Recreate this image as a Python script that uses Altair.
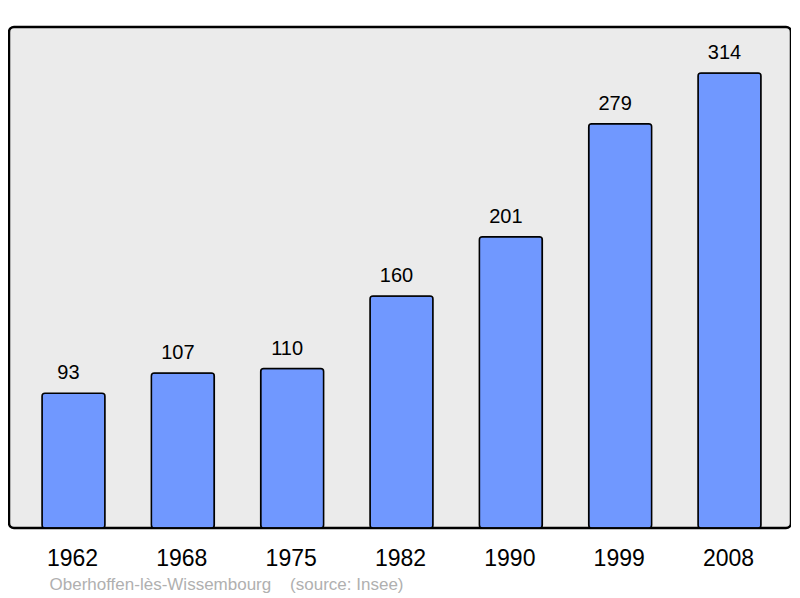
import altair as alt
import pandas as pd

years = ["1962", "1968", "1975", "1982", "1990", "1999", "2008"]
population = [93, 107, 110, 160, 201, 279, 314]
footer = "Oberhoffen-lès-Wissembourg\u00a0\u00a0\u00a0\u00a0(source: Insee)"

df = pd.DataFrame({"year": years, "pop": population})

FONT = "Liberation Sans"

x = alt.X(
    "year:N",
    sort=years,
    scale=alt.Scale(paddingInner=0.424, paddingOuter=0, range=[33, 752]),
    axis=alt.Axis(
        title=footer,
        labelAngle=0,
        labelFontSize=23,
        labelColor="#000000",
        labelFont=FONT,
        labelPadding=37,
        labelBaseline="alphabetic",
        labelOffset=-1,
        domain=False,
        ticks=False,
        titleFont=FONT,
        titleFontSize=17,
        titleFontWeight="normal",
        titleColor="#b0b0b0",
        titleAnchor="start",
        titleAlign="left",
        titleBaseline="alphabetic",
        titleX=40,
        titleY=61,
    ),
)
y = alt.Y("pop:Q", scale=alt.Scale(domain=[0, 345.7], nice=False), axis=None)

bars = alt.Chart(df).mark_bar(
    color="#7098ff", stroke="#000000", strokeWidth=1.5, cornerRadius=3
).encode(x=x, y=y)

labels = alt.Chart(df).mark_text(
    fontSize=20, font=FONT, color="#000000", baseline="alphabetic", dy=-14, dx=-5
).encode(x=x, y=y, text="pop:Q")

chart = (
    alt.layer(bars, labels)
    .properties(
        width=782,
        height=501,
        autosize=alt.AutoSizeParams(type="none"),
        padding={"left": 1, "top": 19, "right": 0, "bottom": 70},
        background="#ffffff",
    )
    .configure_view(
        fill="#ebebeb", stroke="#000000", strokeWidth=2.5, cornerRadius=5
    )
)

chart.save("out.html", embed_options={"renderer": "svg", "actions": False})
